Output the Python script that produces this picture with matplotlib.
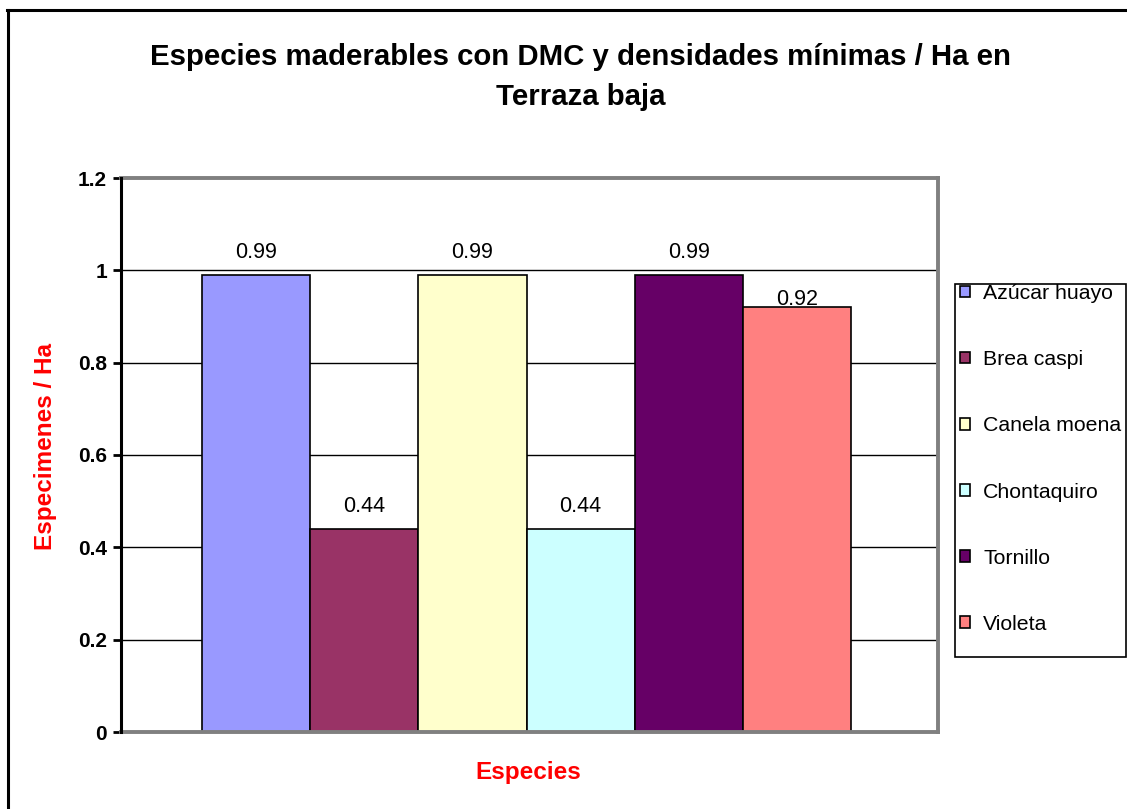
import matplotlib
matplotlib.use("Agg")
import matplotlib.pyplot as plt
from matplotlib.patches import Rectangle
from matplotlib.lines import Line2D

plt.rcParams['font.family'] = ['Liberation Sans', 'DejaVu Sans']

species = ["Azúcar huayo", "Brea caspi", "Canela moena", "Chontaquiro", "Tornillo", "Violeta"]
values = [0.99, 0.44, 0.99, 0.44, 0.99, 0.92]
colors = ["#9999FF", "#993366", "#FFFFCC", "#CCFFFF", "#660066", "#FF8080"]
yticks = [0, 0.2, 0.4, 0.6, 0.8, 1.0, 1.2]
ytick_labels = ["0", "0.2", "0.4", "0.6", "0.8", "1", "1.2"]

W, H = 1127, 809
fig = plt.figure(figsize=(W / 100, H / 100), dpi=100)
ax = fig.add_axes([121 / W, 1 - 732 / H, (938 - 121) / W, (732 - 178) / H])

# gridlines behind bars
for t in yticks[1:-1]:
    ax.axhline(t, color="black", lw=1.0, zorder=1)

bars = []
for i, (name, v, c) in enumerate(zip(species, values, colors)):
    b = ax.bar(i, v, width=1.0, color=c, edgecolor="black", linewidth=1.2,
               label=name, zorder=2)
    bars.append(b)

# value labels above each bar (last one sits right on the bar top)
label_gap = [12, 12, 12, 12, 12, -3]
for i, v in enumerate(values):
    ax.annotate(f"{v:.2f}", xy=(i, v), xytext=(0, label_gap[i]),
                textcoords="offset pixels", ha="center", va="bottom",
                fontsize=15.5, color="black", zorder=3)

ax.set_xlim(-1.245, 6.3)
ax.set_ylim(0, 1.2)
ax.set_xticks([])
ax.set_yticks(yticks)
ax.set_yticklabels(ytick_labels, fontsize=15, fontweight="bold")
ax.tick_params(axis="y", direction="out", length=6, width=2, color="black", pad=4)

ax.spines["left"].set_color("black")
ax.spines["left"].set_linewidth(2.2)
for s in ("top", "right", "bottom"):
    ax.spines[s].set_color("#808080")
    ax.spines[s].set_linewidth(2.8)
ax.spines["left"].set_zorder(4)

fig.text(528 / W, 1 - 772 / H, "Especies", color="#FF0000", fontsize=17.5,
         fontweight="bold", ha="center", va="center")
fig.text(46 / W, 1 - 446 / H, "Especimenes / Ha", color="#FF0000", fontsize=17.5,
         fontweight="bold", ha="center", va="center", rotation=90)

fig.text(581 / W, 1 - 57 / H, "Especies maderables con DMC y densidades mínimas / Ha en",
         fontsize=21.2, fontweight="bold", ha="center", va="center")
fig.text(581 / W, 1 - 97 / H, "Terraza baja",
         fontsize=21.2, fontweight="bold", ha="center", va="center")

# legend
leg = fig.legend(handles=[b[0] for b in bars], labels=species,
                 loc="upper left", bbox_to_anchor=(960 / W, 1 - 284 / H),
                 frameon=False, fontsize=15.3, handlelength=0.47, handleheight=0.47,
                 handletextpad=0.62, labelspacing=2.22, borderpad=0.0,
                 borderaxespad=0.0)
for h in leg.legend_handles:
    h.set_linewidth(1.2)
    h.set_edgecolor("black")

fig.patches.append(Rectangle((955 / W, 1 - 657 / H), (1126 - 955) / W, (657 - 284) / H,
                             transform=fig.transFigure, fill=False,
                             edgecolor="black", linewidth=1.2))

# outer chart border (left and top edges)
fig.lines.append(Line2D([8 / W, 8 / W], [0, 1 - 10 / H], transform=fig.transFigure,
                        color="black", linewidth=2.2))
fig.lines.append(Line2D([7 / W, 1], [1 - 10 / H, 1 - 10 / H], transform=fig.transFigure,
                        color="black", linewidth=2.2))

fig.savefig("out.png", dpi=100)
